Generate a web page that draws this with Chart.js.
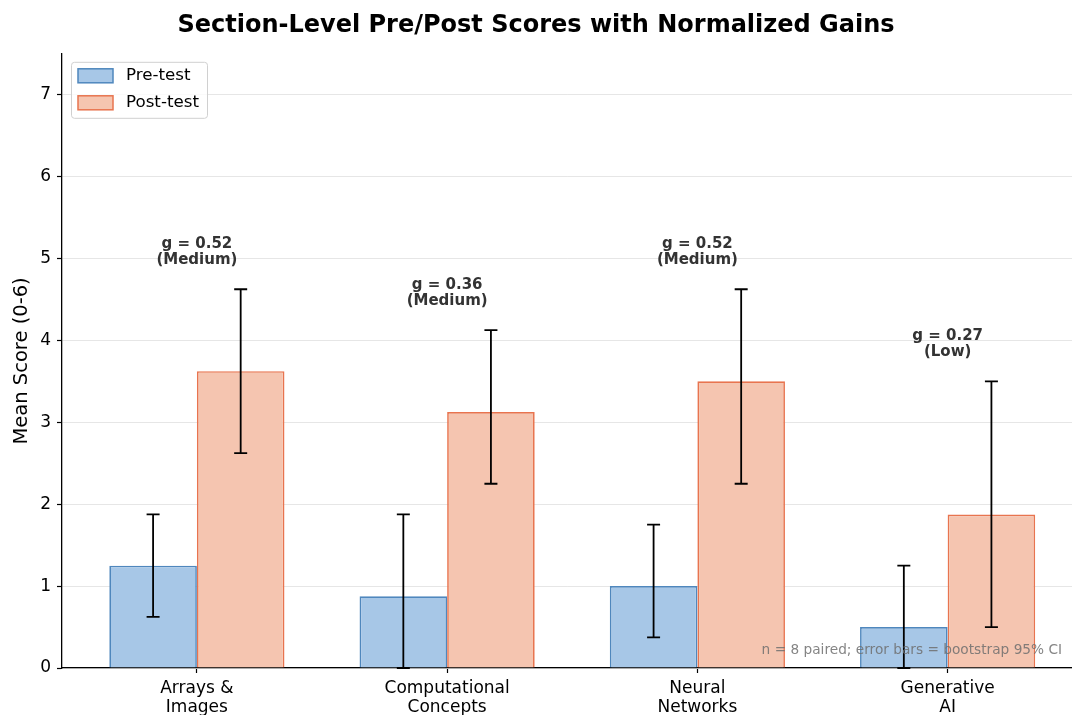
<!DOCTYPE html>
<html>
<head>
<meta charset="utf-8">
<script src="https://cdn.jsdelivr.net/npm/chart.js@4.4.1/dist/chart.umd.min.js"></script>
<style>
  html, body { margin: 0; padding: 0; background: #ffffff; }
  #wrap { width: 1072px; height: 715px; }
</style>
</head>
<body>
<div id="wrap"><canvas id="chart" width="1072" height="715"></canvas></div>
<script>
// Section names (multi-line tick labels)
const sections = [['Arrays &', 'Images'], ['Computational', 'Concepts'], ['Neural', 'Networks'], ['Generative', 'AI']];
// Mean scores (0-6)
const preMeans  = [1.25, 0.875, 1.0, 0.5];
const postMeans = [3.625, 3.125, 3.5, 1.875];
// Bootstrap 95% CI bounds
const preLow   = [0.625, 0.0, 0.375, 0.0];
const preHigh  = [1.875, 1.875, 1.75, 1.25];
const postLow  = [2.625, 2.25, 2.25, 0.5];
const postHigh = [4.625, 4.125, 4.625, 3.5];
// Normalized gains and their labels
const gains      = [0.52, 0.36, 0.52, 0.27];
const gainLevels = ['Medium', 'Medium', 'Medium', 'Low'];
// Axis ticks
const yTicks = [0, 1, 2, 3, 4, 5, 6, 7];
const xTicks = [0, 1, 2, 3];

const FONT = 'DejaVu Sans';

const intervals = [
  { low: preLow, high: preHigh },
  { low: postLow, high: postHigh }
];

// Vertical CI whiskers with caps on every bar
const errorBars = {
  id: 'errorBars',
  afterDatasetsDraw(chart) {
    const { ctx, scales: { y } } = chart;
    ctx.save();
    ctx.strokeStyle = '#000000';
    ctx.lineWidth = 1.8;
    chart.data.datasets.forEach((ds, di) => {
      const meta = chart.getDatasetMeta(di);
      meta.data.forEach((bar, i) => {
        const yl = y.getPixelForValue(intervals[di].low[i]);
        const yh = y.getPixelForValue(intervals[di].high[i]);
        const x = bar.x;
        ctx.beginPath();
        ctx.moveTo(x, yl); ctx.lineTo(x, yh);
        ctx.moveTo(x - 6.5, yl); ctx.lineTo(x + 6.5, yl);
        ctx.moveTo(x - 6.5, yh); ctx.lineTo(x + 6.5, yh);
        ctx.stroke();
      });
    });
    ctx.restore();
  }
};

// Gain labels above each section, legend box, footnote
const overlay = {
  id: 'overlay',
  afterDraw(chart) {
    const { ctx, chartArea: a, scales: { x, y } } = chart;
    ctx.save();
    // gain annotations
    ctx.fillStyle = '#333333';
    ctx.font = 'bold 15px "' + FONT + '"';
    ctx.textAlign = 'center';
    ctx.textBaseline = 'alphabetic';
    xTicks.forEach((v, i) => {
      const top = Math.max(preHigh[i], postHigh[i]) + 0.3;
      const px = x.getPixelForValue(v);
      const py = y.getPixelForValue(top);
      ctx.fillText('(' + gainLevels[i] + ')', px, py - 1);
      ctx.fillText('g = ' + gains[i].toFixed(2), px, py - 17);
    });

    // footnote
    ctx.font = '13.7px "' + FONT + '"';
    ctx.fillStyle = 'rgba(110,110,110,0.85)';
    ctx.textAlign = 'right';
    ctx.fillText('n = 8 paired; error bars = bootstrap 95% CI', a.right - 10, a.bottom - 14);

    // legend
    const lx = a.left + 9, ly = a.top + 8, lw = 136, lh = 56;
    ctx.fillStyle = 'rgba(255,255,255,0.8)';
    ctx.strokeStyle = '#d0d0d0';
    ctx.lineWidth = 1;
    ctx.beginPath();
    ctx.roundRect(lx + 0.5, ly + 0.5, lw, lh, 3);
    ctx.fill();
    ctx.stroke();
    ctx.font = '16.7px "' + FONT + '"';
    ctx.textAlign = 'left';
    ctx.textBaseline = 'middle';
    chart.data.datasets.forEach((ds, di) => {
      const ry = ly + 7 + di * 27;
      ctx.fillStyle = ds.backgroundColor;
      ctx.fillRect(lx + 7, ry, 35, 14);
      ctx.strokeStyle = ds.borderColor;
      ctx.lineWidth = 1.5;
      ctx.strokeRect(lx + 7, ry, 35, 14);
      ctx.fillStyle = '#000000';
      ctx.fillText(ds.label, lx + 55, ry + 7);
    });
    ctx.restore();
  }
};

const toPoints = arr => arr.map((v, i) => ({ x: xTicks[i], y: v }));

new Chart(document.getElementById('chart'), {
  type: 'bar',
  data: {
    datasets: [
      {
        label: 'Pre-test',
        data: toPoints(preMeans),
        backgroundColor: '#a7c7e7',
        borderColor: '#4f87bd',
        borderWidth: 1.7,
        categoryPercentage: 0.7,
        barPercentage: 1.0
      },
      {
        label: 'Post-test',
        data: toPoints(postMeans),
        backgroundColor: '#f5c5b0',
        borderColor: '#e8744f',
        borderWidth: 1.7,
        categoryPercentage: 0.7,
        barPercentage: 1.0
      }
    ]
  },
  options: {
    responsive: false,
    animation: false,
    layout: { padding: { left: 0, right: 0, top: 0, bottom: 0 } },
    plugins: {
      legend: { display: false },
      tooltip: { enabled: false },
      title: {
        display: true,
        text: 'Section-Level Pre/Post Scores with Normalized Gains',
        color: '#000000',
        font: { family: FONT, size: 24, weight: 'bold', lineHeight: 1.2 },
        padding: { top: 11, bottom: 14 }
      }
    },
    scales: {
      x: {
        type: 'linear',
        min: -0.539,
        max: 3.497,
        offset: false,
        afterBuildTicks: s => { s.ticks = xTicks.map(v => ({ value: v })); },
        afterFit: s => { s.height = 47; },
        ticks: {
          autoSkip: false,
          maxRotation: 0,
          padding: 6,
          color: '#000000',
          font: { family: FONT, size: 17, lineHeight: 1.12 },
          callback: (v, i) => sections[i]
        },
        grid: { offset: false, drawOnChartArea: false, drawTicks: true, tickLength: 5, tickColor: '#000000', tickWidth: 1.2 },
        border: { display: true, color: '#000000', width: 1.3 }
      },
      y: {
        min: 0,
        max: 7.5,
        afterBuildTicks: s => { s.ticks = yTicks.map(v => ({ value: v })); },
        afterFit: s => { s.width = 62; },
        ticks: {
          padding: 6,
          color: '#000000',
          font: { family: FONT, size: 17 }
        },
        grid: { color: '#e6e6e6', lineWidth: 1, drawTicks: true, tickLength: 5, tickColor: '#000000', tickWidth: 1.2 },
        border: { display: true, color: '#000000', width: 1.3 },
        title: {
          display: true,
          text: 'Mean Score (0-6)',
          color: '#000000',
          font: { family: FONT, size: 19.5 },
          padding: { top: 10, bottom: 0 }
        }
      }
    }
  },
  plugins: [errorBars, overlay]
});
</script>
</body>
</html>
